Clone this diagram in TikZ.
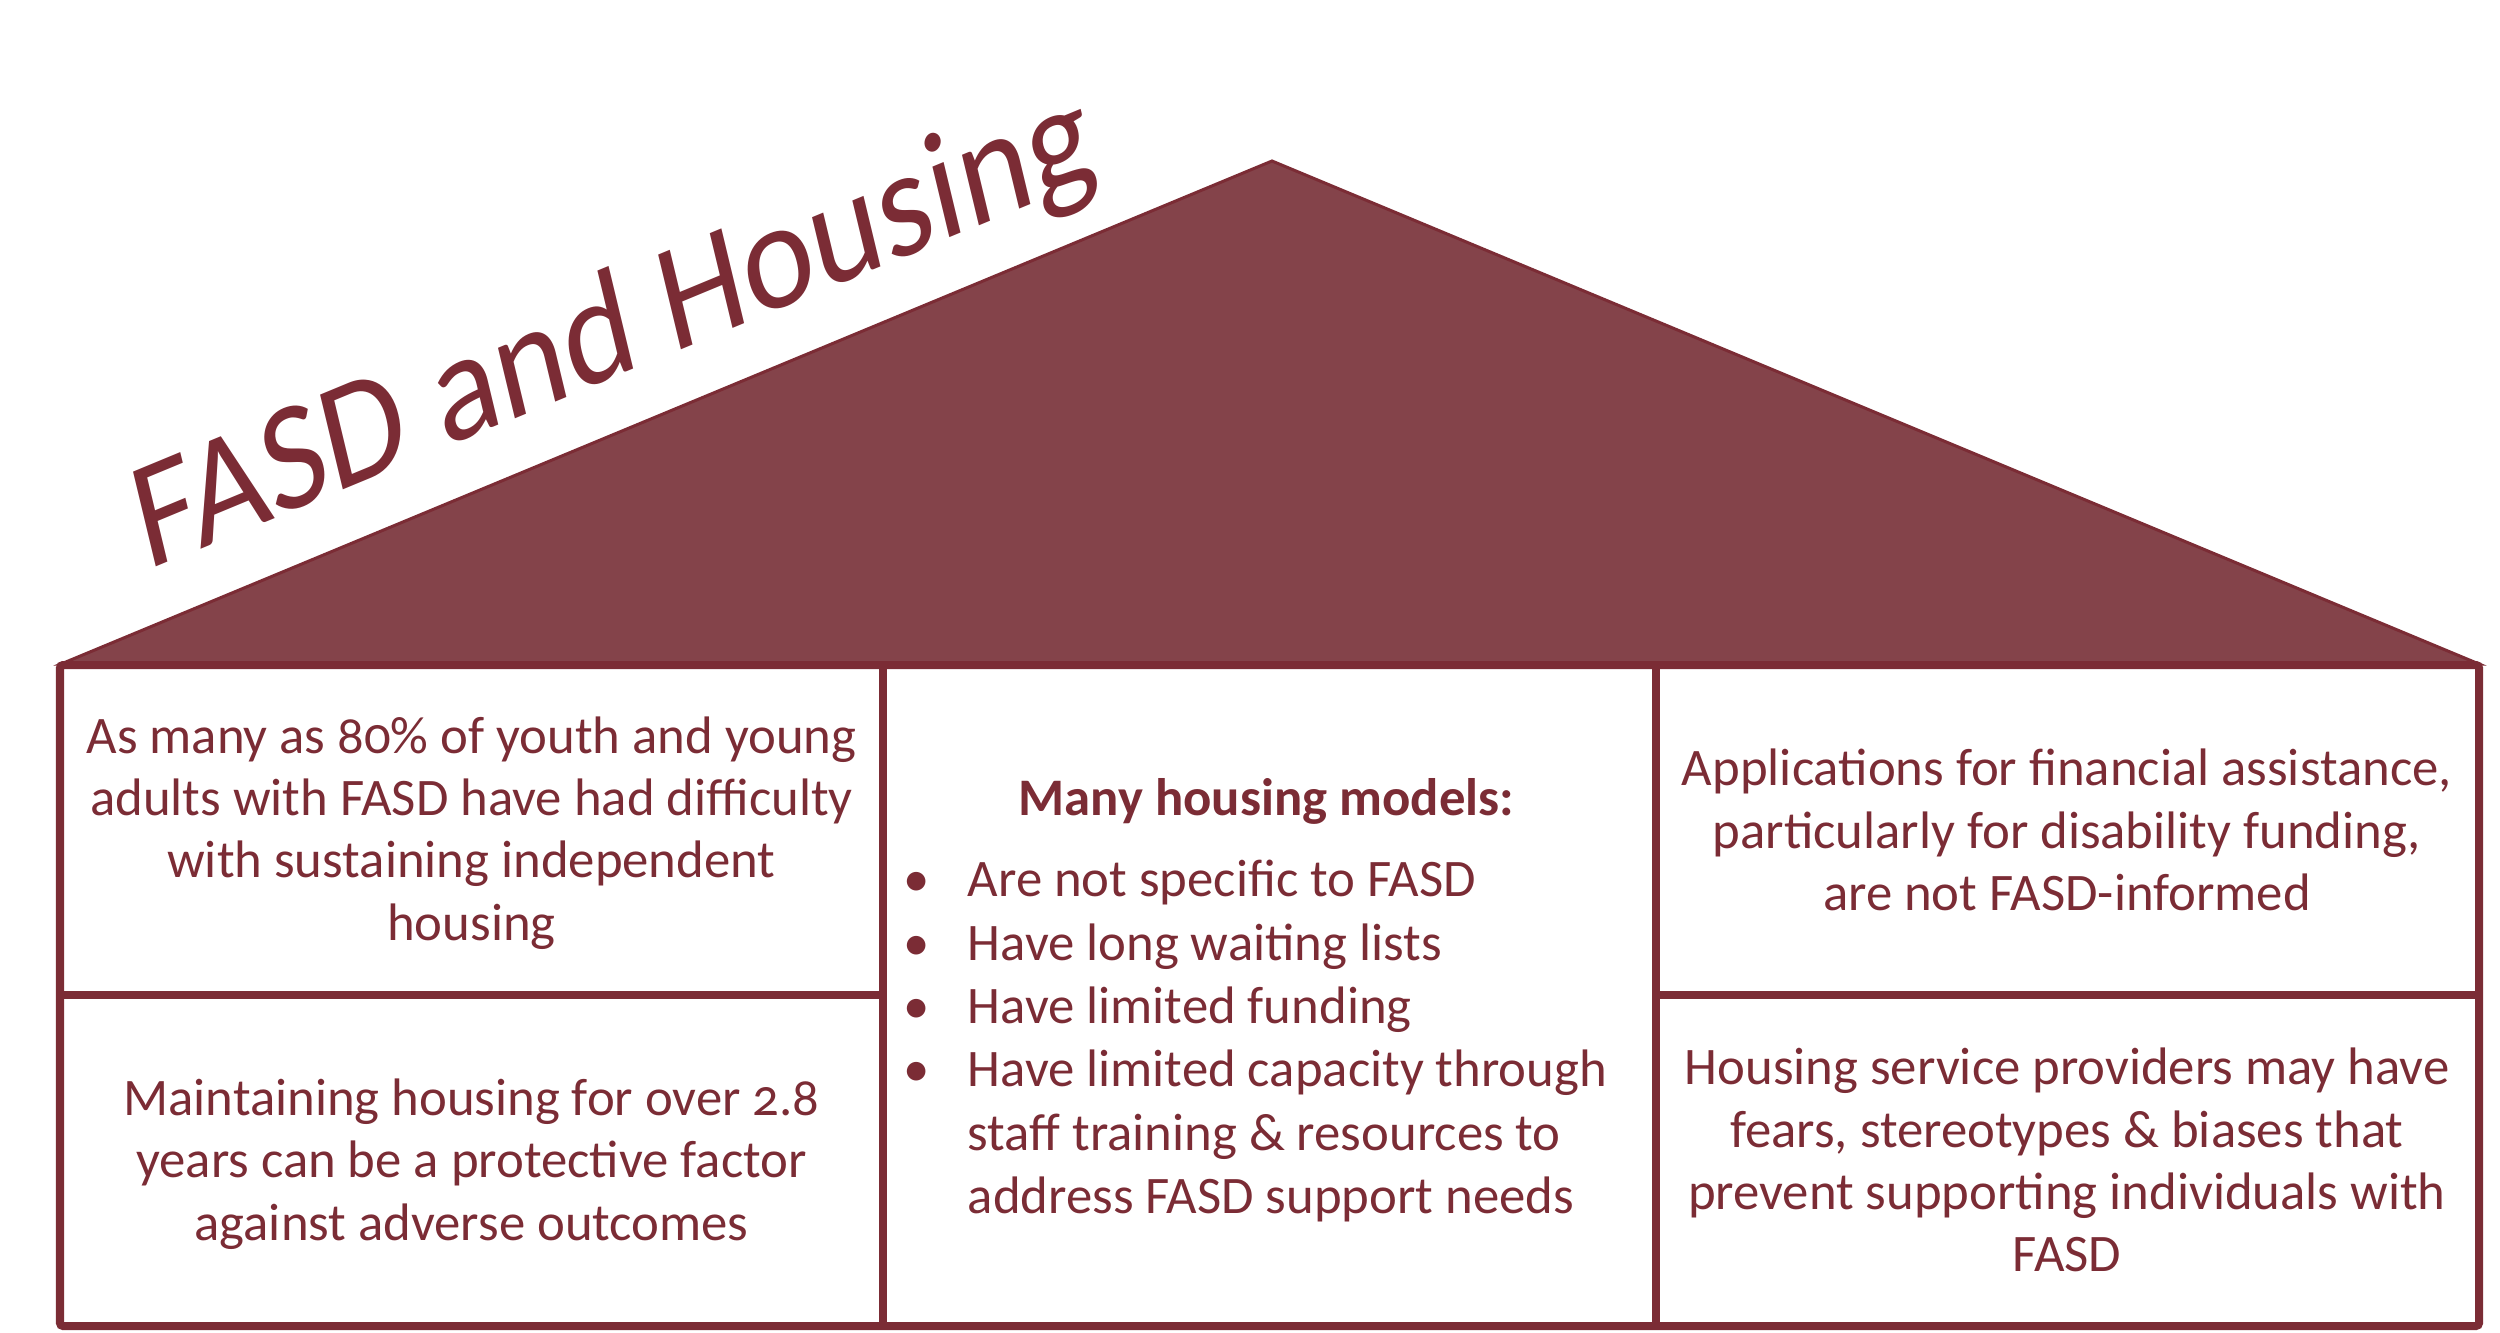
\documentclass[tikz,border=0pt]{standalone}
\usepackage{fontspec}
\setmainfont{Carlito}[Numbers=OldStyle]
\definecolor{fasdred}{RGB}{123,44,53}
\definecolor{rooffill}{RGB}{132,67,74}
\begin{document}
\begin{tikzpicture}[x=0.01cm,y=0.01cm,
  txt/.style={text=fasdred, font=\fontsize{15}{17.7}\selectfont, align=center, inner sep=0},
  frame/.style={draw=fasdred, line width=0.08cm}]
\useasboundingbox (0,0) rectangle (2500,1332);
% roof
\coordinate (L) at (61,668);
\coordinate (A) at (1272,1171);
\coordinate (R) at (2479,668);
\filldraw[fill=rooffill, draw=fasdred, line width=0.03cm, line join=miter] (L) -- (A) -- (R) -- cycle;
% title
\node[text=fasdred, font=\fontsize{40}{48}\selectfont, inner sep=0, anchor=base west,
      cm={0.924,0.383,-0.252,1.050,(0,0)}] (title) at (147,761) {FASD and Housing};
% frame
\draw[frame, rounded corners=0.03cm] (60,667) rectangle (2479,6);
\coordinate (c1t) at (883,667); \coordinate (c1b) at (883,6);
\coordinate (c2t) at (1656,667); \coordinate (c2b) at (1656,6);
\coordinate (h1l) at (60,337); \coordinate (h1r) at (883,337);
\coordinate (h2l) at (1656,337); \coordinate (h2r) at (2479,337);
\draw[frame] (c1t) -- (c1b);
\draw[frame] (c2t) -- (c2b);
\draw[frame] (h1l) -- (h1r);
\draw[frame] (h2l) -- (h2r);
% texts
\node[txt] (lt) at (471.5,499) {As many as 80\% of youth and young\\adults with FASD have had difficulty\\with sustaining independent\\housing};
\node[txt] (lb) at (471.5,168) {Maintaining housing for over 2.8\\years can be a protective factor\\against adverse outcomes};
\node[txt] (rt) at (2067,502) {Applications for financial assistance,\\particularly for disability funding,\\are not FASD-informed};
\node[txt] (rb) at (2067,172) {Housing service providers may have\\fears, stereotypes \& biases that\\prevent supporting individuals with\\FASD};
\node[txt, anchor=west, align=left, font=\fontsize{15}{18}\selectfont] (mid) at (903,330) {%
\begin{tabular}{@{}l@{}l@{}}
\multicolumn{2}{@{}c@{}}{\hspace{0.22cm}\bfseries Many housing models:}\\[5pt]
\makebox[0.64cm][l]{•} & Are not specific to FASD\\
\makebox[0.64cm][l]{•} & Have long waiting lists\\
\makebox[0.64cm][l]{•} & Have limited funding\\
\makebox[0.64cm][l]{•} & Have limited capacity through\\
 & staff training \& resources to\\
 & address FASD support needs
\end{tabular}};
\end{tikzpicture}
\end{document}
